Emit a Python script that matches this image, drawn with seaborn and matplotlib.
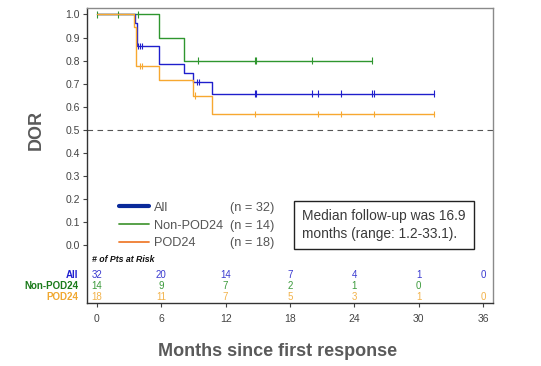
import numpy as np
import pandas as pd
import seaborn as sns
import matplotlib.pyplot as plt
import matplotlib.transforms as mtransforms
from matplotlib.lines import Line2D

# ---- data ----
groups = ["All", "Non-POD24", "POD24"]
n_pts = [32, 14, 18]

# step curves: event times (months) and DOR after each step
all_t = [0, 3.55, 3.7, 5.8, 8.1, 9.0, 10.7, 31.4]
all_s = [1.0, 0.965, 0.862, 0.784, 0.745, 0.706, 0.657, 0.657]
non_t = [0, 5.8, 8.1, 25.7]
non_s = [1.0, 0.9, 0.8, 0.8]
pod_t = [0, 3.45, 3.6, 5.8, 9.0, 10.75, 31.4]
pod_s = [1.0, 0.944, 0.778, 0.714, 0.648, 0.567, 0.567]

# censored observations (months)
all_cens = [3.8, 4.0, 4.2, 9.3, 9.5, 14.7, 14.8, 20.1, 20.6, 22.8, 25.7, 25.8, 31.4]
non_cens = [0, 2.0, 3.8, 9.4, 14.7, 14.8, 20.1, 25.7]
pod_cens = [4.0, 4.2, 9.1, 14.7, 20.6, 22.8, 25.8, 31.4]

# numbers at risk
risk_t = [0, 6, 12, 18, 24, 30, 36]
all_risk = [32, 20, 14, 7, 4, 1, 0]
non_risk = [14, 9, 7, 2, 1, 0]
pod_risk = [18, 11, 7, 5, 3, 1, 0]

line_col = {"All": "#1f1fcc", "Non-POD24": "#2f962f", "POD24": "#f7a830"}
leg_col = {"All": "#0a2a9a", "Non-POD24": "#4a9a3a", "POD24": "#ef7d30"}
risk_col = {"All": "#3a3ad0", "Non-POD24": "#3c9a3c", "POD24": "#f2b24a"}
lab_col = {"All": "#2020d0", "Non-POD24": "#1a7a1a", "POD24": "#f0a830"}


def step_at(t, s, x):
    idx = np.searchsorted(t, x, side="right") - 1
    return np.asarray(s)[idx]


curves = pd.concat([
    pd.DataFrame({"month": all_t, "dor": all_s, "grp": "All"}),
    pd.DataFrame({"month": non_t, "dor": non_s, "grp": "Non-POD24"}),
    pd.DataFrame({"month": pod_t, "dor": pod_s, "grp": "POD24"}),
])
cens = pd.concat([
    pd.DataFrame({"month": all_cens, "dor": step_at(all_t, all_s, all_cens), "grp": "All"}),
    pd.DataFrame({"month": non_cens, "dor": step_at(non_t, non_s, non_cens), "grp": "Non-POD24"}),
    pd.DataFrame({"month": pod_cens, "dor": step_at(pod_t, pod_s, pod_cens), "grp": "POD24"}),
])

sns.set_theme(style="white")
plt.rcParams["font.family"] = ["Liberation Sans", "DejaVu Sans"]

fig = plt.figure(figsize=(5.41, 3.66), dpi=100)
ax = fig.add_axes([87 / 541, 1 - 303 / 366, 406 / 541, 295 / 366])

order = ["Non-POD24", "All", "POD24"]
sns.lineplot(data=curves, x="month", y="dor", hue="grp", hue_order=order,
             palette=line_col, estimator=None, sort=False, drawstyle="steps-post",
             linewidth=1.0, legend=False, ax=ax)
sns.scatterplot(data=cens, x="month", y="dor", hue="grp", hue_order=order,
                palette=line_col, marker="|", s=20, linewidth=0.8, legend=False, ax=ax)

ax.axhline(0.5, color="#555555", lw=0.8, ls=(0, (5, 4)))

ax.set_xlim(-0.93, 36.94)
ax.set_ylim(-0.252, 1.028)
ax.set_yticks(np.arange(0, 1.01, 0.1))
ax.set_yticklabels([f"{v:.1f}" for v in np.arange(0, 1.01, 0.1)])
ax.set_xticks(risk_t)
ax.tick_params(axis="both", labelsize=7.5, labelcolor="#444444", color="#444444",
               length=3, width=0.8, direction="out", left=True, bottom=True, pad=2)
ax.tick_params(axis="x", pad=5)
for side in ["left", "bottom"]:
    ax.spines[side].set_color("#333333")
    ax.spines[side].set_linewidth(1.0)
for side in ["top", "right"]:
    ax.spines[side].set_color("#8a8a8a")
    ax.spines[side].set_linewidth(1.0)

ax.set_xlabel("Months since first response", fontsize=13, fontweight="bold", color="#5a5a5a")
ax.xaxis.set_label_coords((278 - 87) / 406, -0.135)
ax.set_ylabel("DOR", fontsize=13, fontweight="bold", color="#5a5a5a")
ax.yaxis.set_label_coords(-0.105, (303 - 130) / 295)

# number at risk table
bt = mtransforms.blended_transform_factory(ax.transAxes, ax.transData)
ax.text(0.012, -0.062, "# of Pts at Risk", transform=bt, fontsize=6.3,
        fontweight="bold", style="italic", color="#111111", va="center")
risk_rows = [("All", all_risk, -0.130), ("Non-POD24", non_risk, -0.178),
             ("POD24", pod_risk, -0.228)]
for g, vals, yy in risk_rows:
    ax.text(-0.022, yy, g, transform=bt, ha="right", va="center", fontsize=7,
            fontweight="bold", color=lab_col[g], clip_on=False)
    for t, v in zip(risk_t, vals):
        ax.text(t, yy, str(v), ha="center", va="center", fontsize=7, color=risk_col[g])

# legend: names and counts as two aligned legends
handles = [Line2D([], [], color=leg_col["All"], lw=3),
           Line2D([], [], color=leg_col["Non-POD24"], lw=1.3),
           Line2D([], [], color=leg_col["POD24"], lw=1.3)]
leg1 = ax.legend(handles, groups, loc="upper left", bbox_to_anchor=(0.078, 0.343),
                 frameon=False, fontsize=9.2, handlelength=2.4, handletextpad=0.4,
                 labelspacing=0.45, borderpad=0, borderaxespad=0, labelcolor="#555555")
ax.add_artist(leg1)
blank = [Line2D([], [], lw=0) for _ in groups]
ax.legend(blank, [f"(n = {n})" for n in n_pts], loc="upper left",
          bbox_to_anchor=(0.352, 0.343), frameon=False, fontsize=9.2, handlelength=0,
          handletextpad=0, labelspacing=0.45, borderpad=0, borderaxespad=0,
          labelcolor="#555555")

ax.text(0.53, 0.264, "Median follow-up was 16.9\nmonths (range: 1.2-33.1).",
        transform=ax.transAxes, fontsize=9.9, color="#3a3a3a", va="center", ha="left",
        linespacing=1.3,
        bbox=dict(boxstyle="square,pad=0.6", fc="white", ec="#222222", lw=1.0))

fig.savefig("out.png", dpi=100)
